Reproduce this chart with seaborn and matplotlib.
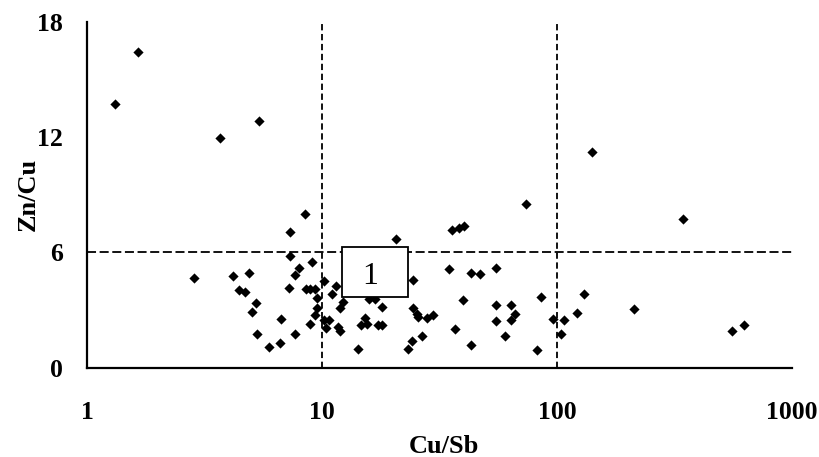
import pandas as pd
import seaborn as sns
import matplotlib.pyplot as plt
from matplotlib.patches import Rectangle
from matplotlib.ticker import FixedLocator, FixedFormatter, NullLocator

# values
cu_sb = [1.31, 1.65, 3.68, 5.38, 8.49, 7.33, 7.33, 9.10, 7.96, 7.70,
         2.84, 4.18, 4.89, 10.23, 7.26, 4.42, 4.69, 8.51, 8.86, 9.32,
         9.51, 5.24, 5.06, 9.51, 9.33, 6.67, 8.86, 10.44, 5.30, 7.70,
         6.62, 5.93, 73.6, 35.8, 38.4, 40.3, 20.6, 11.5, 11.06, 12.32,
         11.93, 10.2, 10.74, 11.73, 11.93, 15.85, 16.81, 17.95, 15.24, 14.66,
         15.54, 17.36, 17.95, 14.19, 24.5, 24.5, 25.3, 25.5, 27.9, 29.8,
         26.6, 24.2, 23.3, 34.7, 42.9, 47.0, 54.8, 39.9, 36.8, 42.9,
         54.8, 63.7, 66.2, 63.7, 54.8, 60.3, 82.0, 85.8, 140.5, 342.7,
         130.7, 122.0, 96.2, 107.1, 103.7, 211.9, 555.6, 624.9]
zn_cu = [13.70, 16.40, 11.96, 12.85, 8.00, 7.07, 5.82, 5.51, 5.19, 4.81,
         4.64, 4.76, 4.92, 4.52, 4.14, 4.04, 3.96, 4.09, 4.09, 4.09,
         3.65, 3.34, 2.92, 3.13, 2.75, 2.55, 2.29, 2.06, 1.73, 1.73,
         1.28, 1.09, 8.50, 7.17, 7.26, 7.38, 6.69, 4.26, 3.83, 3.41,
         3.10, 2.49, 2.49, 2.11, 1.89, 3.58, 3.58, 3.15, 2.61, 2.20,
         2.29, 2.20, 2.20, 0.99, 4.57, 3.10, 2.81, 2.63, 2.58, 2.72,
         1.66, 1.40, 0.97, 5.13, 4.95, 4.88, 5.19, 3.53, 1.99, 1.18,
         3.27, 3.27, 2.79, 2.49, 2.41, 1.63, 0.90, 3.70, 11.20, 7.74,
         3.84, 2.84, 2.55, 2.48, 1.77, 3.03, 1.92, 2.22]

x_ticks = [1, 10, 100, 1000]
x_tick_labels = ['1', '10', '100', '1000']
y_ticks = [0, 6, 12, 18]
x_limits = [10, 100]
zn_limit = 6
field_x = (12.2, 23.3)
field_y = (3.67, 6.27)
field_label = '1'

df = pd.DataFrame({'Cu/Sb': cu_sb, 'Zn/Cu': zn_cu})

sns.set_style('white')
plt.rcParams['font.family'] = ['Liberation Serif', 'DejaVu Serif']
plt.rcParams['font.weight'] = 'bold'
plt.rcParams['text.color'] = 'black'
plt.rcParams['axes.labelcolor'] = 'black'

fig = plt.figure(figsize=(8.19, 4.57), dpi=100)
ax = fig.add_axes([0.1062, 0.1954, 0.8608, 0.7575])

ax.set_xscale('log')
ax.set_xlim(1, 1000)
ax.set_ylim(0, 18)

for xv in x_limits:
    ax.axvline(xv, color='black', lw=1.3, ls=(0, (3.5, 2)), zorder=1)
ax.axhline(zn_limit, color='black', lw=1.3, ls=(0, (5, 2)), zorder=1)

sns.scatterplot(data=df, x='Cu/Sb', y='Zn/Cu', marker='D', color='black',
                s=27, linewidth=0, ax=ax, zorder=3)

ax.add_patch(Rectangle((field_x[0], field_y[0]), field_x[1] - field_x[0],
                       field_y[1] - field_y[0], facecolor='white',
                       edgecolor='black', lw=1.3, zorder=4))
ax.text(16.0, 4.75, field_label, ha='center', va='center', fontsize=23,
        fontweight='normal', zorder=5)

ax.xaxis.set_major_locator(FixedLocator(x_ticks))
ax.xaxis.set_major_formatter(FixedFormatter(x_tick_labels))
ax.xaxis.set_minor_locator(NullLocator())
ax.set_yticks(y_ticks)

for side in ['top', 'right']:
    ax.spines[side].set_visible(False)
for side in ['left', 'bottom']:
    ax.spines[side].set_linewidth(1.6)
    ax.spines[side].set_color('black')

ax.tick_params(axis='x', direction='out', length=5, width=1, pad=19,
               labelsize=18.5, colors='black')
ax.tick_params(axis='y', direction='out', length=7, width=1, pad=10,
               labelsize=18.5, colors='black')
for lab in ax.get_xticklabels() + ax.get_yticklabels():
    lab.set_fontweight('bold')

ax.set_xlabel('Cu/Sb', fontsize=19, fontweight='bold')
ax.set_ylabel('Zn/Cu', fontsize=19, fontweight='bold')
ax.xaxis.set_label_coords(0.507, -0.193)
ax.yaxis.set_label_coords(-0.067, 0.5)

fig.savefig('out.png', dpi=100, facecolor='white')
